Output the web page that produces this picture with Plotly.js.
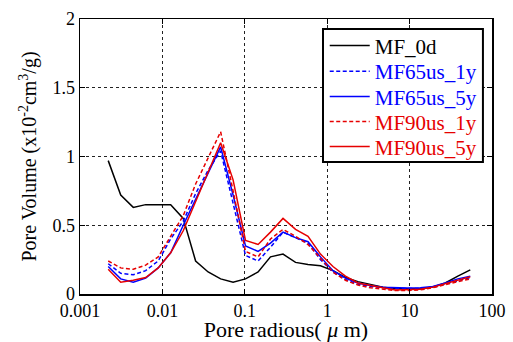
<!DOCTYPE html>
<html><head><meta charset="utf-8">
<script src="https://cdn.plot.ly/plotly-3.0.1.min.js"></script>
<style>html,body{margin:0;padding:0;background:#fff}#chart{width:513px;height:342px}</style>
</head><body><div id="chart"></div>
<script>
const poreRadius = [0.0022,0.00312,0.00443,0.00627,0.00889,0.0126,0.0179,0.0253,0.0359,0.0509,0.0721,0.102,0.145,0.205,0.291,0.413,0.585,0.829,1.175,1.665,2.36,3.35,4.74,6.72,9.53,13.5,19.1,27.1,38.5,54.5];
const MF_0d      = [0.97,0.72,0.63,0.65,0.65,0.65,0.55,0.24,0.16,0.11,0.085,0.11,0.16,0.27,0.29,0.23,0.215,0.205,0.17,0.12,0.09,0.068,0.05,0.04,0.036,0.036,0.05,0.08,0.13,0.175];
const MF65us_1y  = [0.22,0.15,0.14,0.17,0.24,0.40,0.53,0.73,0.90,1.04,0.66,0.28,0.24,0.34,0.45,0.41,0.37,0.25,0.16,0.105,0.07,0.055,0.045,0.04,0.04,0.04,0.05,0.075,0.10,0.12];
const MF65us_5y  = [0.20,0.11,0.085,0.115,0.19,0.30,0.50,0.69,0.88,1.07,0.72,0.35,0.31,0.37,0.45,0.41,0.38,0.27,0.17,0.115,0.08,0.062,0.05,0.045,0.044,0.045,0.055,0.08,0.11,0.13];
const MF90us_1y  = [0.24,0.19,0.18,0.21,0.27,0.42,0.57,0.80,0.99,1.18,0.75,0.31,0.27,0.40,0.47,0.42,0.36,0.26,0.16,0.10,0.065,0.045,0.035,0.025,0.025,0.03,0.045,0.07,0.09,0.11];
const MF90us_5y  = [0.18,0.085,0.10,0.12,0.19,0.30,0.46,0.67,0.88,1.10,0.83,0.39,0.36,0.45,0.55,0.47,0.42,0.29,0.20,0.13,0.08,0.06,0.045,0.03,0.03,0.035,0.05,0.075,0.105,0.125];
const seriesNames = ['MF_0d','MF65us_1y','MF65us_5y','MF90us_1y','MF90us_5y'];
const xTickVals = [0.001,0.01,0.1,1,10,100];
const xTickText = ['0.001','0.01','0.1','1','10','100'];
const yTickVals = [0,0.5,1,1.5,2];
const yTickText = ['0','0.5','1','1.5','2'];

const SERIF = 'Liberation Serif';
const RED = 'rgb(230,0,0)', BLUE = 'rgb(0,0,255)';
const styles = [
  {color:'black', dash:'solid'},
  {color:BLUE, dash:'4px,2.5px'},
  {color:BLUE, dash:'solid'},
  {color:RED, dash:'4px,2.5px'},
  {color:RED, dash:'solid'}
];
const legendY = [0.902, 0.809, 0.717, 0.626, 0.535];
const legendIds = ['legend','legend2','legend3','legend4','legend5'];
const ys = [MF_0d, MF65us_1y, MF65us_5y, MF90us_1y, MF90us_5y];
const traces = ys.map((y,i)=>({
  x: poreRadius, y: y, type:'scatter', mode:'lines',
  name: seriesNames[i], legend: legendIds[i],
  line:{color:styles[i].color, width:1.5, dash:styles[i].dash}
}));

const axisCommon = {
  showline:true, linecolor:'black', linewidth:1.5, mirror:'ticks',
  ticks:'inside', ticklen:5, tickcolor:'black', tickwidth:1,
  showgrid:true, gridcolor:'#222', griddash:'dot', gridwidth:1,
  zeroline:false, tickfont:{family:SERIF, size:18, color:'black'}
};
const layout = {
  width:513, height:342,
  margin:{l:80, r:21, t:19, b:48},
  paper_bgcolor:'white', plot_bgcolor:'white',
  font:{family:SERIF, size:18, color:'black'},
  showlegend:true,
  shapes:[{type:'rect', xref:'paper', yref:'paper', x0:0.5898, x1:0.978, y0:0.48, y1:0.9636,
    line:{color:'black', width:2}, fillcolor:'white', layer:'above'}],
  annotations:[{xref:'paper', yref:'paper', x:-0.126, y:0.5, xanchor:'center', yanchor:'middle',
    textangle:-90, showarrow:false,
    text:'Pore Volume (x10<sup>-2</sup>cm<sup>3</sup>/g)', font:{family:SERIF, size:20, color:'black'}}],
  xaxis: Object.assign({}, axisCommon, {
    type:'log', range:[-3,2], tickvals:xTickVals, ticktext:xTickText,
    title:{text:'Pore radious( <i>μ</i> m)', font:{family:SERIF, size:22}, standoff:4}
  }),
  yaxis: Object.assign({}, axisCommon, {
    range:[0,2], tickvals:yTickVals, ticktext:yTickText
  })
};
legendIds.forEach((id,i)=>{
  layout[id] = {x:0.594, y:legendY[i], xanchor:'left', yanchor:'middle',
    bgcolor:'rgba(0,0,0,0)', borderwidth:0, itemwidth:40,
    font:{family:SERIF, size:21, color:styles[i].color}};
});
Plotly.newPlot('chart', traces, layout, {staticPlot:true, displayModeBar:false});
</script></body></html>
